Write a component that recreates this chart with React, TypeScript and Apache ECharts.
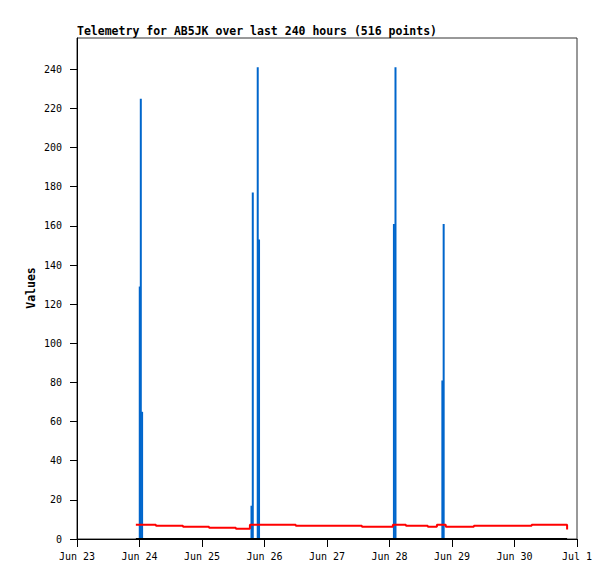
import React, { useEffect, useRef } from "react";
import * as echarts from "echarts";

// x positions are hours since Jun 23 00:00
const xTickLabels = ["Jun 23", "Jun 24", "Jun 25", "Jun 26", "Jun 27", "Jun 28", "Jun 29", "Jun 30", "Jul 1"];
const yTicks = [0, 20, 40, 60, 80, 100, 120, 140, 160, 180, 200, 220, 240];

// blue channel spikes
const spikeHours = [24.1, 24.5, 25.0, 67.0, 67.5, 69.4, 69.9, 121.7, 122.3, 140.3, 140.8];
const spikeValues = [129, 225, 65, 17, 177, 241, 153, 161, 241, 81, 161];

// red channel (held until next change)
const redHours = [22.6, 30.3, 40.7, 50.7, 61.0, 66.4, 84.0, 109.4, 121.3, 126.3, 134.7, 138.2, 141.6, 152.4, 174.6, 188.2];
const redValues = [7.3, 6.8, 6.3, 5.8, 5.3, 7.3, 6.8, 6.3, 7.3, 6.8, 6.3, 7.3, 6.3, 6.8, 7.3, 4.9];

// black channel (constant zero)
const blackHours = [22.6, 188.2];
const blackValues = [0, 0];

const MONO = "'DejaVu Sans Mono', monospace";

export default function App() {
  const ref = useRef<HTMLDivElement>(null);
  useEffect(() => {
    if (!ref.current) return;
    const chart = echarts.init(ref.current, null, { renderer: "svg" });
    chart.setOption({
      animation: false,
      backgroundColor: "#ffffff",
      title: {
        text: "Telemetry for AB5JK over last 240 hours (516 points)",
        left: 77,
        top: 25,
        padding: 0,
        textStyle: { fontFamily: MONO, fontWeight: "bold", fontSize: 11.5, color: "#000" },
      },
      graphic: [
        {
          type: "text",
          x: 31,
          y: 288,
          rotation: Math.PI / 2,
          style: {
            text: "Values",
            fontFamily: MONO,
            fontWeight: "bold",
            fontSize: 11.5,
            fill: "#000",
            align: "center",
            verticalAlign: "middle",
          },
        },
      ],
      grid: {
        left: 77,
        top: 38,
        right: 38,
        bottom: 40,
        show: true,
        borderColor: "#333",
        borderWidth: 1,
        backgroundColor: "transparent",
      },
      xAxis: {
        type: "value",
        min: 0,
        max: 192,
        interval: 24,
        axisLine: { show: true, lineStyle: { color: "#000", width: 1 } },
        axisTick: { show: true, length: 8, lineStyle: { color: "#000" } },
        splitLine: { show: false },
        axisLabel: {
          margin: 12,
          fontFamily: MONO,
          fontSize: 10,
          color: "#000",
          formatter: (v: number) => xTickLabels[Math.round(v / 24)] ?? "",
        },
      },
      yAxis: {
        type: "value",
        min: 0,
        max: 256,
        axisLine: { show: true, lineStyle: { color: "#000", width: 1 } },
        axisTick: { show: true, length: 7, lineStyle: { color: "#000" }, customValues: yTicks },
        splitLine: { show: false },
        axisLabel: {
          margin: 15,
          fontFamily: MONO,
          fontSize: 10,
          color: "#000",
          customValues: yTicks,
        },
      },
      series: [
        {
          type: "line",
          step: "end",
          showSymbol: false,
          data: redHours.map((h, i) => [h, redValues[i]]),
          lineStyle: { color: "#ff0000", width: 2 },
          itemStyle: { color: "#ff0000" },
        },
        {
          type: "bar",
          barWidth: 2,
          data: spikeHours.map((h, i) => [h, spikeValues[i]]),
          itemStyle: { color: "#0066cc" },
        },
        {
          type: "line",
          showSymbol: false,
          data: blackHours.map((h, i) => [h, blackValues[i]]),
          lineStyle: { color: "#000", width: 2 },
          itemStyle: { color: "#000" },
        },
      ],
    });
    return () => chart.dispose();
  }, []);
  return <div ref={ref} style={{ position: "fixed", left: 0, top: 0, width: 615, height: 579 }} />;
}
